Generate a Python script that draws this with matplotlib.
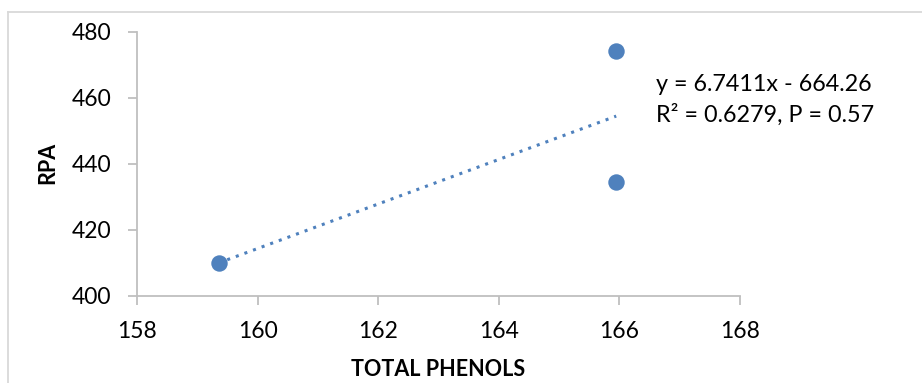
import numpy as np
import matplotlib
matplotlib.use('Agg')
import matplotlib.pyplot as plt
from matplotlib.lines import Line2D

# dados
total_phenols = [159.35, 165.95, 165.95]
rpa = [410.0, 474.2, 434.5]

slope = 6.7411      # coeficientes da linha de tendência (rótulo do gráfico)
intercept = -664.26
eq_label = 'y = 6.7411x - 664.26\nR² = 0.6279, P = 0.57'

x_ticks = [158, 160, 162, 164, 166, 168]
y_ticks = [400, 420, 440, 460, 480]

blue = '#4F81BD'
gray = '#BFBFBF'

W, H = 922, 383

plt.rcParams['font.family'] = ['Lato', 'DejaVu Sans']

fig = plt.figure(figsize=(W / 100, H / 100), dpi=100)
ax = fig.add_axes([137.3 / W, 1 - 295.7 / H, (739.7 - 137.3) / W, (295.7 - 31.7) / H])

ax.scatter(total_phenols, rpa, s=140, color=blue, zorder=3, linewidths=0)

# linha de tendência pontilhada
xt = np.array([min(total_phenols), max(total_phenols)])
ax.plot(xt, slope * xt + intercept, color=blue, linestyle=(0, (1, 2)), linewidth=2.2, zorder=2)

fig.text(656 / W, 1 - 100 / H, eq_label, fontsize=16.8, va='center', ha='left', linespacing=1.45)

ax.set_xlim(158, 168)
ax.set_ylim(400, 480)
ax.set_xticks(x_ticks)
ax.set_yticks(y_ticks)

for side in ['top', 'right']:
    ax.spines[side].set_visible(False)
for side in ['left', 'bottom']:
    ax.spines[side].set_color(gray)
    ax.spines[side].set_linewidth(1.3)
ax.tick_params(axis='both', direction='out', length=6.5, width=1.3, color=gray,
               labelsize=16.5, pad=12)

ax.set_xlabel('TOTAL PHENOLS', fontsize=15.5, fontweight='bold')
ax.set_ylabel('RPA', fontsize=15.5, fontweight='bold')
ax.xaxis.set_label_coords(438 / W, 1 - 370 / H, transform=fig.transFigure)
ax.yaxis.set_label_coords(48 / W, 1 - 163 / H, transform=fig.transFigure)
ax.xaxis.label.set_va('center')
ax.yaxis.label.set_va('center')

# borda da área do gráfico (cortada à direita e embaixo)
fig.add_artist(Line2D([8.3 / W, 8.3 / W], [0, 1 - 11.7 / H], color='#D9D9D9', linewidth=1.3))
fig.add_artist(Line2D([8.3 / W, 1], [1 - 11.7 / H, 1 - 11.7 / H], color='#D9D9D9', linewidth=1.3))

fig.savefig('out.png', dpi=100)
